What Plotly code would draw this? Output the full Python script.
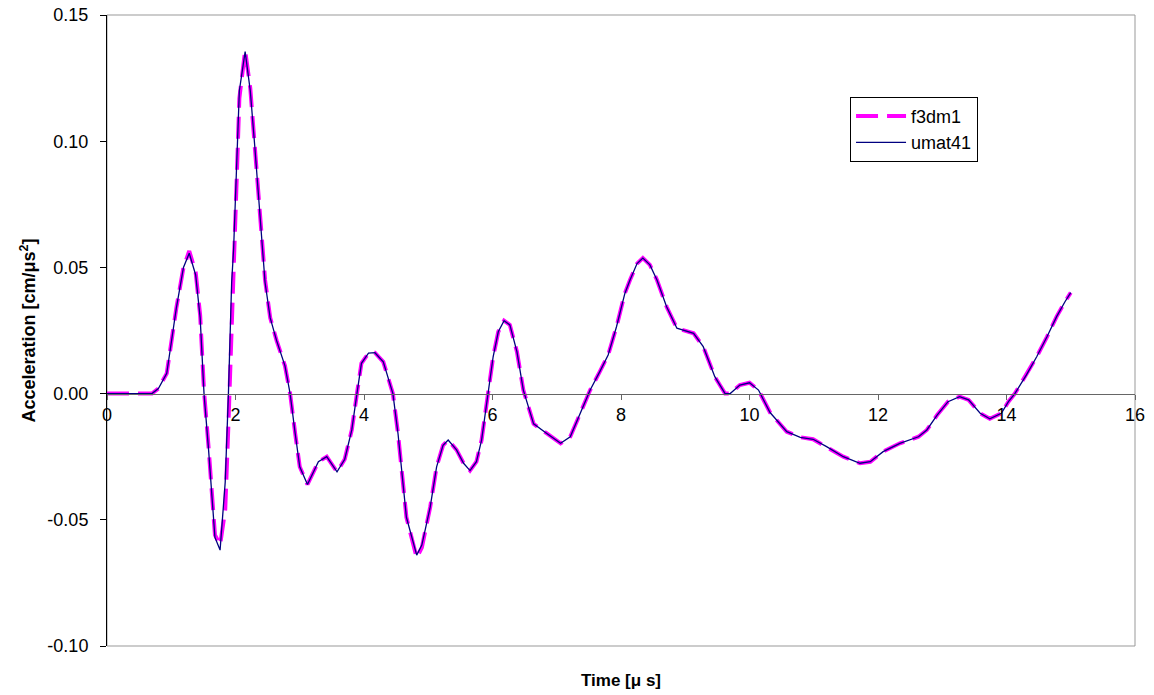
import plotly.graph_objects as go

time_us = [0, 0.2, 0.4, 0.6, 0.7, 0.8, 0.93, 1.08, 1.19, 1.28, 1.38, 1.45, 1.51, 1.58, 1.68, 1.76,
           1.84, 1.89, 1.94, 1.97, 2.02, 2.06, 2.15, 2.23, 2.30, 2.38, 2.46, 2.54, 2.64, 2.77, 2.85,
           2.93, 3.00, 3.12, 3.20, 3.29, 3.42, 3.58, 3.70, 3.81, 3.89, 3.96, 4.07, 4.17, 4.30, 4.40,
           4.45, 4.53, 4.66, 4.82, 4.90, 5.03, 5.13, 5.23, 5.31, 5.44, 5.55, 5.65, 5.75, 5.83, 5.88,
           5.93, 6.01, 6.09, 6.18, 6.27, 6.38, 6.48, 6.64, 6.84, 7.06, 7.21, 7.36, 7.52, 7.67, 7.80,
           7.93, 8.06, 8.14, 8.25, 8.34, 8.45, 8.56, 8.71, 8.87, 9.13, 9.28, 9.46, 9.62, 9.70, 9.85,
           10.0, 10.14, 10.32, 10.58, 10.79, 10.99, 11.20, 11.46, 11.72, 11.88, 12.08, 12.34, 12.63,
           12.76, 12.92, 13.09, 13.27, 13.41, 13.59, 13.74, 13.92, 14.03, 14.13, 14.31, 14.47, 14.63,
           14.78, 14.91, 15.0]

umat41 = [0, 0, 0, 0, 0, 0.002, 0.008, 0.034, 0.050, 0.0556, 0.047, 0.030, 0.0, -0.022, -0.057, -0.062,
          -0.035, 0.0, 0.044, 0.057, 0.0925, 0.120, 0.1355, 0.120, 0.098, 0.070, 0.044, 0.030, 0.021, 0.011, 0.0,
          -0.016, -0.029, -0.036, -0.032, -0.027, -0.025, -0.031, -0.026, -0.0144, 0.0, 0.012, 0.016, 0.0162, 0.0126, 0.004,
          0.0, -0.016, -0.049, -0.064, -0.060, -0.045, -0.029, -0.0205, -0.0184, -0.0223, -0.0276, -0.0305, -0.027, -0.0184, -0.0092,
          0.0, 0.0146, 0.0245, 0.0289, 0.0272, 0.0166, 0.0014, -0.012, -0.0157, -0.0197, -0.0171, -0.0078, 0.0014, 0.0087, 0.0153,
          0.0265, 0.0397, 0.045, 0.0515, 0.0537, 0.051, 0.045, 0.0344, 0.0259, 0.0239, 0.0186, 0.0067, 0.0, 0.0, 0.0034,
          0.0043, 0.0014, -0.0075, -0.0151, -0.0173, -0.0181, -0.021, -0.025, -0.0276, -0.027, -0.023, -0.0197, -0.0171,
          -0.0144, -0.0085, -0.0032, -0.0012, -0.0025, -0.0078, -0.010, -0.0078, -0.0032, 0.0, 0.0074, 0.0146, 0.0225,
          0.0305, 0.0364, 0.040]

f3dm1 = [0, 0, 0, 0, 0, 0.002, 0.008, 0.034, 0.050, 0.0565, 0.048, 0.031, 0.001, -0.021, -0.056, -0.060,
         -0.046, -0.012, 0.030, 0.048, 0.086, 0.117, 0.136, 0.121, 0.099, 0.071, 0.045, 0.030, 0.021, 0.011, 0.0,
         -0.016, -0.029, -0.036, -0.032, -0.027, -0.025, -0.031, -0.026, -0.0144, 0.0, 0.012, 0.016, 0.0162, 0.0126, 0.004,
         0.0, -0.016, -0.049, -0.065, -0.061, -0.045, -0.029, -0.0205, -0.0184, -0.0223, -0.0276, -0.0305, -0.027, -0.0184, -0.0092,
         0.0, 0.0146, 0.0245, 0.0289, 0.0272, 0.0166, 0.0014, -0.012, -0.0157, -0.0197, -0.0171, -0.0078, 0.0014, 0.0087, 0.0153,
         0.0265, 0.0397, 0.045, 0.0515, 0.0537, 0.051, 0.045, 0.0344, 0.0259, 0.0239, 0.0186, 0.0067, 0.0, 0.0, 0.0034,
         0.0043, 0.0014, -0.0075, -0.0151, -0.0173, -0.0181, -0.021, -0.025, -0.0276, -0.027, -0.023, -0.0197, -0.0171,
         -0.0144, -0.0085, -0.0032, -0.0012, -0.0025, -0.0078, -0.010, -0.0078, -0.0032, 0.0, 0.0074, 0.0146, 0.0225,
         0.0305, 0.0364, 0.040]

y_tick_values = [-0.10, -0.05, 0.0, 0.05, 0.10, 0.15]
y_tick_labels = ["-0.10", "-0.05", "0.00", "0.05", "0.10", "0.15"]

FONT = "Liberation Sans, Arial, sans-serif"

fig = go.Figure()
fig.add_trace(go.Scatter(x=time_us, y=f3dm1, mode="lines", name="f3dm1",
                         line=dict(color="#FF00FF", width=4, dash="22px,9px")))
fig.add_trace(go.Scatter(x=time_us, y=umat41, mode="lines", name="umat41",
                         line=dict(color="#000080", width=1.3)))

fig.update_layout(
    width=1154, height=695,
    margin=dict(l=107, r=19, t=15, b=49),
    paper_bgcolor="white", plot_bgcolor="white",
    font=dict(family=FONT, size=18, color="black"),
    showlegend=True,
    legend=dict(x=0.7228, y=0.8705, xanchor="left", yanchor="top",
                bgcolor="white", bordercolor="black", borderwidth=1,
                font=dict(family=FONT, size=18), tracegroupgap=0,
                itemwidth=50),
    xaxis=dict(range=[0, 16], dtick=2, tick0=0, showgrid=False, zeroline=False,
               anchor="free", position=0.4, showline=True, linecolor="#666666", linewidth=1,
               ticks="outside", ticklen=5, tickcolor="#666666", automargin=False,
               tickfont=dict(family=FONT, size=18, color="black")),
    yaxis=dict(range=[-0.10, 0.15], tickvals=y_tick_values, ticktext=y_tick_labels, showgrid=False,
               zeroline=False, showline=True, linecolor="black", linewidth=1, automargin=False,
               ticks="outside", ticklen=6, tickcolor="black", ticklabelstandoff=8,
               tickfont=dict(family=FONT, size=18, color="black")),
    shapes=[dict(type="rect", xref="paper", yref="paper", x0=0, y0=0, x1=1, y1=1,
                 line=dict(color="#999999", width=1), layer="below")],
    annotations=[
        dict(text="<b>Acceleration [cm/μs<sup>2</sup>]</b>", xref="paper", yref="paper",
             x=-0.0768, y=0.5, xanchor="center", yanchor="middle", textangle=-90,
             showarrow=False, font=dict(family=FONT, size=18, color="black")),
        dict(text="<b>Time [μ s]</b>", xref="paper", yref="paper",
             x=0.5, y=-0.054, xanchor="center", yanchor="middle",
             showarrow=False, font=dict(family=FONT, size=17, color="black")),
    ],
)

fig.write_html("out.html")
